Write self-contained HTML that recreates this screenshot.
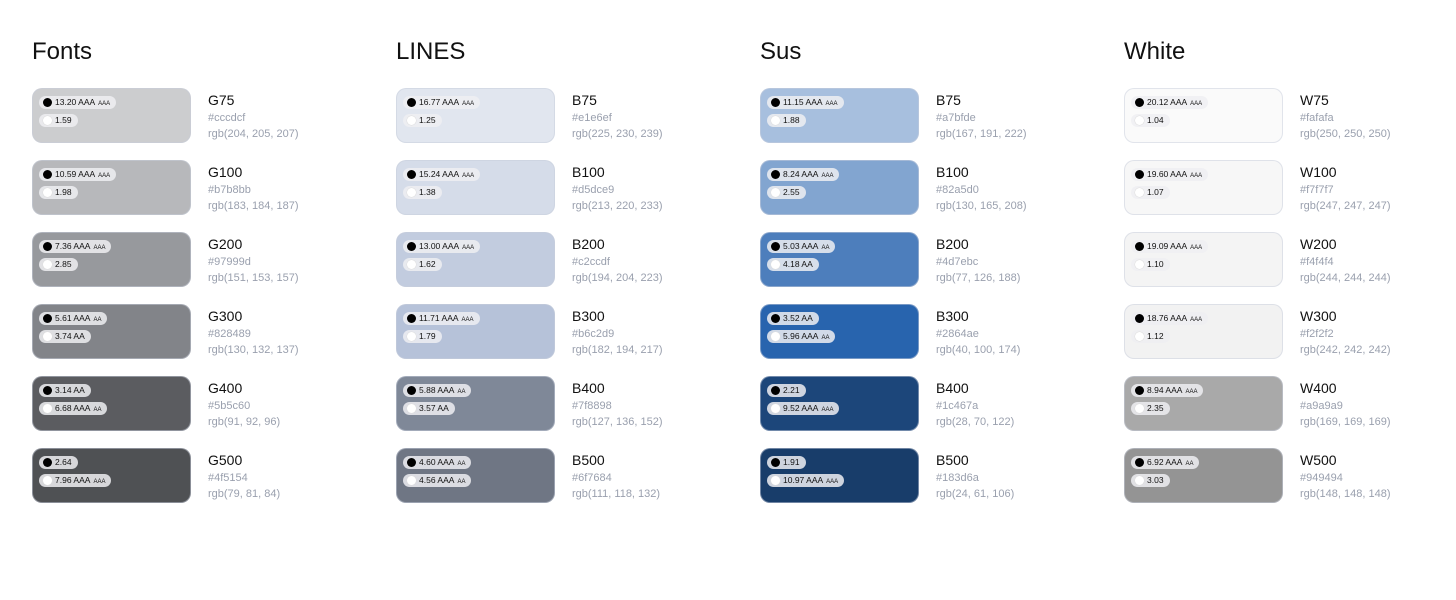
<!DOCTYPE html>
<html><head><meta charset="utf-8"><style>
body{margin:0;width:1456px;height:600px;background:#fff;font-family:"Liberation Sans",sans-serif;position:relative;overflow:hidden}
.title{position:absolute;top:38px;font-size:24px;color:#111}
.sw{position:absolute;width:157px;height:53px;border-radius:10px;border:1px solid rgba(200,205,220,0.5)}
.pill{position:absolute;left:6px;height:13px;border-radius:7px;background:rgba(238,239,242,0.85);font-size:8.5px;line-height:13px;color:#111;padding:0 6px 0 16px;white-space:nowrap}
.pill i{position:absolute;left:4px;top:2px;width:9px;height:9px;border-radius:50%}
.pill small{font-size:6px;margin-left:3px}
.nm{position:absolute;font-size:14px;color:#111}
.hx{position:absolute;font-size:11px;color:#9aa0ae}
</style></head><body>
<script>
const groups=["Fonts","LINES","Sus","White"];
const names=[["G75","G100","G200","G300","G400","G500"],["B75","B100","B200","B300","B400","B500"],["B75","B100","B200","B300","B400","B500"],["W75","W100","W200","W300","W400","W500"]];
const hexes=[["#cccdcf","#b7b8bb","#97999d","#828489","#5b5c60","#4f5154"],["#e1e6ef","#d5dce9","#c2ccdf","#b6c2d9","#7f8898","#6f7684"],["#a7bfde","#82a5d0","#4d7ebc","#2864ae","#1c467a","#183d6a"],["#fafafa","#f7f7f7","#f4f4f4","#f2f2f2","#a9a9a9","#949494"]];
const blackPill=[[["13.20 AAA","AAA"],["10.59 AAA","AAA"],["7.36 AAA","AAA"],["5.61 AAA","AA"],["3.14 AA",""],["2.64",""]],
[["16.77 AAA","AAA"],["15.24 AAA","AAA"],["13.00 AAA","AAA"],["11.71 AAA","AAA"],["5.88 AAA","AA"],["4.60 AAA","AA"]],
[["11.15 AAA","AAA"],["8.24 AAA","AAA"],["5.03 AAA","AA"],["3.52 AA",""],["2.21",""],["1.91",""]],
[["20.12 AAA","AAA"],["19.60 AAA","AAA"],["19.09 AAA","AAA"],["18.76 AAA","AAA"],["8.94 AAA","AAA"],["6.92 AAA","AA"]]];
const whitePill=[[["1.59",""],["1.98",""],["2.85",""],["3.74 AA",""],["6.68 AAA","AA"],["7.96 AAA","AAA"]],
[["1.25",""],["1.38",""],["1.62",""],["1.79",""],["3.57 AA",""],["4.56 AAA","AA"]],
[["1.88",""],["2.55",""],["4.18 AA",""],["5.96 AAA","AA"],["9.52 AAA","AAA"],["10.97 AAA","AAA"]],
[["1.04",""],["1.07",""],["1.10",""],["1.12",""],["2.35",""],["3.03",""]]];
function rgb(h){return [1,3,5].map(i=>parseInt(h.substr(i,2),16));}
function pill(parent,top,d,dot){
  const p=document.createElement('div');p.className='pill';p.style.top=top+'px';
  
  
  p.innerHTML='<i style="background:'+dot+';'+(dot=='#fff'?'box-shadow:0 0 0 0.5px #ddd':'')+'"></i>'+d[0]+(d[1]?'<small>'+d[1]+'</small>':'');
  parent.appendChild(p);
}
groups.forEach((g,c)=>{
  const x=32+c*364;
  const t=document.createElement('div');t.className='title';t.style.left=x+'px';t.textContent=g;
  
  
  document.body.appendChild(t);
  names[c].forEach((n,r)=>{
    const y=88+r*72;const h=hexes[c][r];
    const s=document.createElement('div');s.className='sw';s.style.left=x+'px';s.style.top=y+'px';s.style.background=h;
    
    
    document.body.appendChild(s);
    pill(s,7,blackPill[c][r],'#000');
    pill(s,25,whitePill[c][r],'#fff');
    const a=document.createElement('div');a.className='nm';a.style.left=(x+176)+'px';a.style.top=(y+4)+'px';a.textContent=n;
    
    
    document.body.appendChild(a);
    const b=document.createElement('div');b.className='hx';b.style.left=(x+176)+'px';b.style.top=(y+24)+'px';b.textContent=h;
    
    
    document.body.appendChild(b);
    const d=document.createElement('div');d.className='hx';d.style.left=(x+176)+'px';d.style.top=(y+40)+'px';d.textContent='rgb('+rgb(h).join(', ')+')';
    
    
    document.body.appendChild(d);
  });
});
</script>
</body></html>
